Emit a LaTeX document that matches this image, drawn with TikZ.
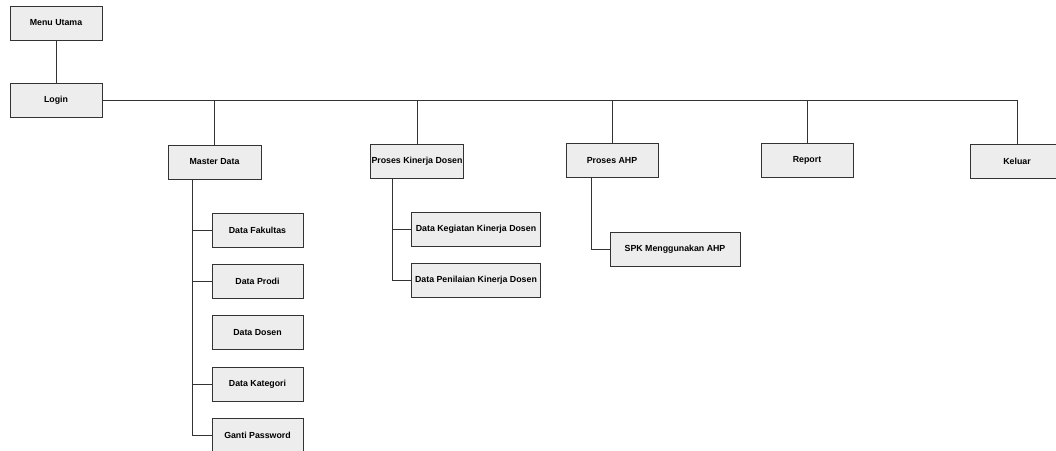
\documentclass[tikz,border=0pt]{standalone}
\usepackage{fontspec}
\setmainfont{Liberation Sans}
\begin{document}
\begin{tikzpicture}[x=1pt,y=-1pt,
  menubox/.style={draw=black!80,line width=0.8pt,fill=black!7,minimum height=34pt,
    minimum width=92pt,inner sep=1pt,font=\fontsize{8.8}{10}\selectfont\bfseries},
  wide/.style={minimum width=129pt},
  link/.style={draw=black!80,line width=0.8pt}]
\useasboundingbox (0,0) rectangle (1056,450);
\fill[white] (0,0) rectangle (1056,450);

% top of the hierarchy
\node[menubox] (menu)  at (56,23)  {Menu Utama};
\node[menubox] (login) at (56,100) {Login};

% main menu entries
\node[menubox,minimum width=93pt] (master) at (214.5,162) {Master Data};
\node[menubox,minimum width=90pt] (pk)     at (417,161)   {Proses Kinerja Dosen};
\node[menubox] (ahp)    at (612,160.5) {Proses AHP};
\node[menubox] (report) at (807,160.5) {Report};
\node[menubox,minimum width=94pt] (keluar) at (1017,161.5) {Keluar};

% master data entries
\node[menubox,minimum width=91pt] (fak)  at (257.5,230)   {Data Fakultas};
\node[menubox,minimum width=91pt] (prodi) at (257.5,281)  {Data Prodi};
\node[menubox,minimum width=91pt] (dosen) at (257.5,332.5){Data Dosen};
\node[menubox,minimum width=91pt] (kat)  at (257.5,384)   {Data Kategori};
\node[menubox,minimum width=91pt] (pass) at (257.5,435)   {Ganti Password};

% kinerja entries
\node[menubox,wide] (keg) at (476,229) {Data Kegiatan Kinerja Dosen};
\node[menubox,wide] (pen) at (476,280) {Data Penilaian Kinerja Dosen};

% AHP entry
\node[menubox,minimum width=130pt] (spk) at (675,249) {SPK Menggunakan AHP};

% connectors
\draw[link] (menu.south) -- (login.north);
\draw[link] (login.east) -| (keluar.north);
\foreach \n in {master,pk,ahp,report}
  \draw[link] (\n.north) -- (\n.north |- login.east);

\draw[link] ([xshift=-22.5pt]master.south) |- (pass.west);
\draw[link] ([xshift=-22.5pt]master.south) |- (fak.west);
\draw[link] ([xshift=-22.5pt]master.south) |- (prodi.west);
\draw[link] ([xshift=-22.5pt]master.south) |- (kat.west);

\draw[link] ([xshift=-25pt]pk.south) |- (keg.west);
\draw[link] ([xshift=-25pt]pk.south) |- (pen.west);

\draw[link] ([xshift=-21pt]ahp.south) |- (spk.west);
\end{tikzpicture}
\end{document}
